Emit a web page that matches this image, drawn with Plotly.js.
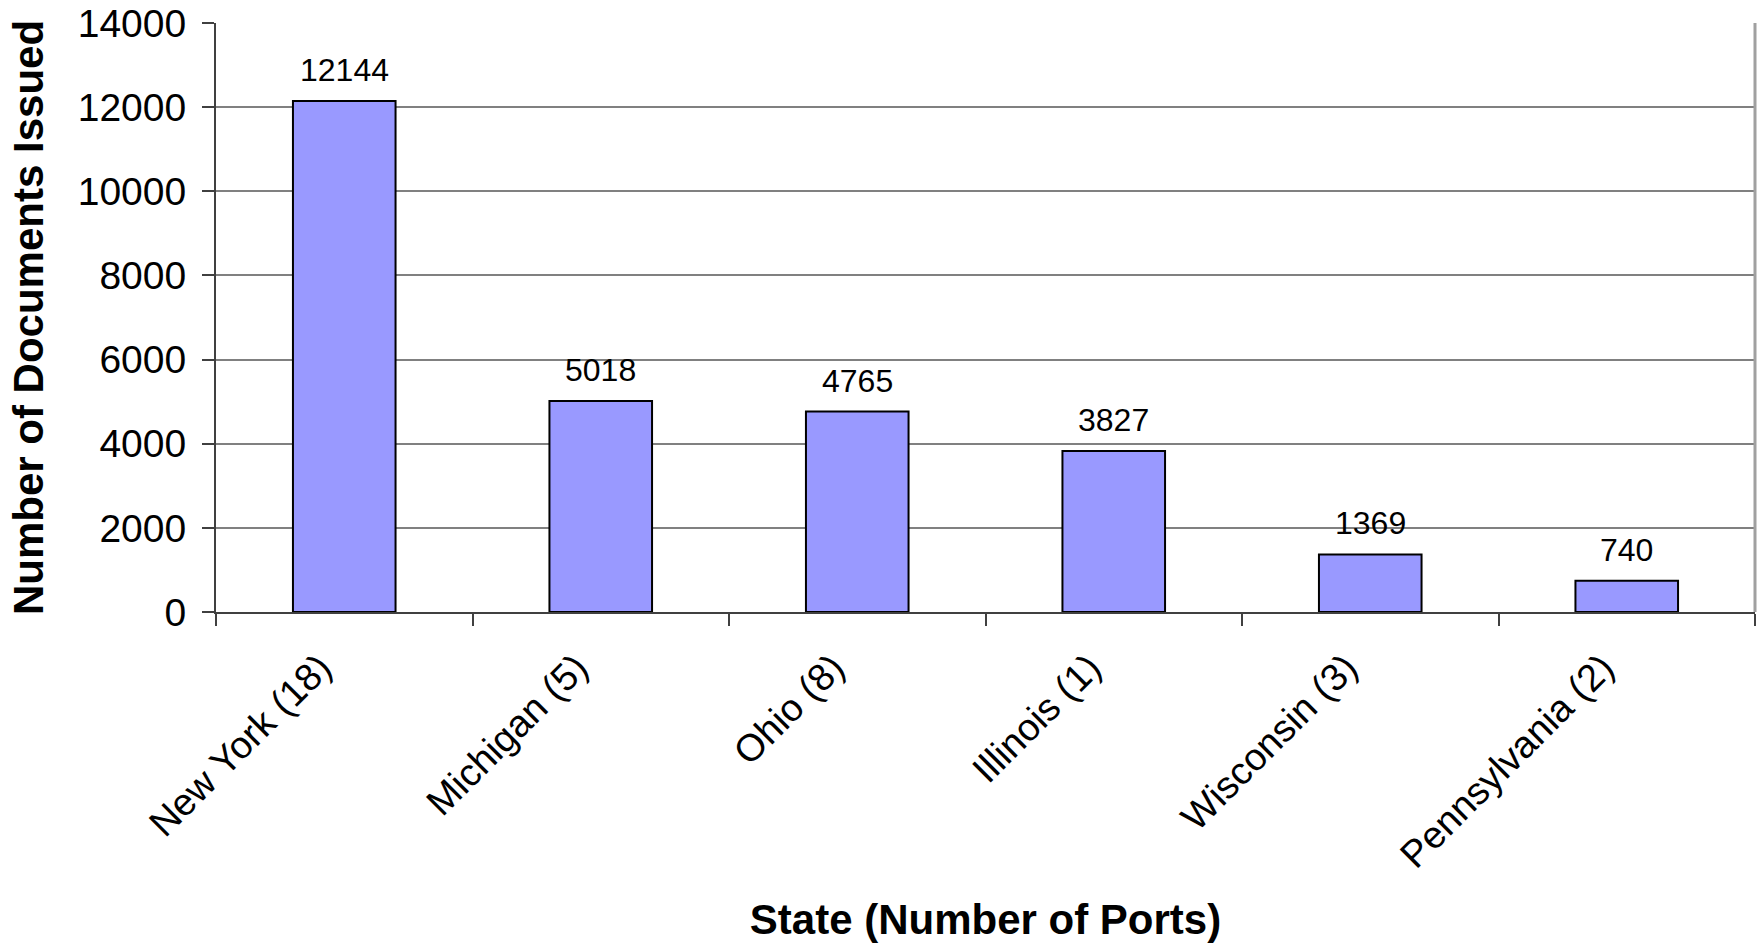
<!DOCTYPE html>
<html>
<head>
<meta charset="utf-8">
<script src="https://cdn.plot.ly/plotly-3.0.1.min.js"></script>
<style>
  html, body { margin: 0; padding: 0; background: #ffffff; }
  #chart { width: 1759px; height: 945px; }
</style>
</head>
<body>
<div id="chart"></div>
<script>
// Documents issued per state; the port count is part of each category label
const states = ["New York (18)", "Michigan (5)", "Ohio (8)", "Illinois (1)", "Wisconsin (3)", "Pennsylvania (2)"];
const documentsIssued = [12144, 5018, 4765, 3827, 1369, 740];
const yTickValues = [0, 2000, 4000, 6000, 8000, 10000, 12000, 14000];

const FONT = "Liberation Sans, Arial, Helvetica, sans-serif";

const trace = {
  type: "bar",
  x: states,
  y: documentsIssued,
  marker: { color: "#9999FF", line: { color: "#000000", width: 2 } },
  hoverinfo: "x+y"
};

// value labels sitting above each bar
const valueLabels = states.map((s, i) => ({
  x: s,
  y: documentsIssued[i],
  xref: "x",
  yref: "y",
  text: String(documentsIssued[i]),
  showarrow: false,
  yanchor: "bottom",
  yshift: 11,
  font: { family: FONT, size: 32, color: "#000000" }
}));

const layout = {
  width: 1759,
  height: 945,
  margin: { l: 216, r: 4, t: 23, b: 333 },
  paper_bgcolor: "#ffffff",
  plot_bgcolor: "#ffffff",
  font: { family: FONT, color: "#000000" },
  showlegend: false,
  bargap: 0.6,
  xaxis: {
    type: "category",
    tickson: "boundaries",
    ticks: "outside",
    ticklen: 12,
    tickwidth: 2,
    tickcolor: "#404040",
    showgrid: false,
    showline: true,
    linecolor: "#404040",
    linewidth: 2,
    tickangle: -45,
    ticklabelshift: -24,
    ticklabelstandoff: 16,
    tickfont: { family: FONT, size: 38, color: "#000000" },
    title: {
      text: "<b>State (Number of Ports)</b>",
      font: { family: FONT, size: 42, color: "#000000" },
      standoff: 30
    },
    automargin: false
  },
  yaxis: {
    range: [0, 14000],
    tickmode: "array",
    tickvals: yTickValues,
    ticktext: yTickValues.map(String),
    ticks: "outside",
    ticklen: 12,
    tickwidth: 2,
    tickcolor: "#404040",
    ticklabelstandoff: 8,
    showgrid: true,
    gridcolor: "#808080",
    gridwidth: 2,
    zeroline: false,
    showline: true,
    linecolor: "#404040",
    linewidth: 2,
    tickfont: { family: FONT, size: 39, color: "#000000" },
    title: {
      text: "<b>Number of Documents Issued</b>",
      font: { family: FONT, size: 42, color: "#000000" },
      standoff: 21
    },
    automargin: false
  },
  shapes: [
    // right-hand edge of the plot area
    { type: "line", xref: "paper", yref: "paper", x0: 1, x1: 1, y0: 0, y1: 1,
      line: { color: "#a0a0a0", width: 3 } }
  ],
  annotations: valueLabels
};

Plotly.newPlot("chart", [trace], layout, { displayModeBar: false, staticPlot: true });
</script>
</body>
</html>
